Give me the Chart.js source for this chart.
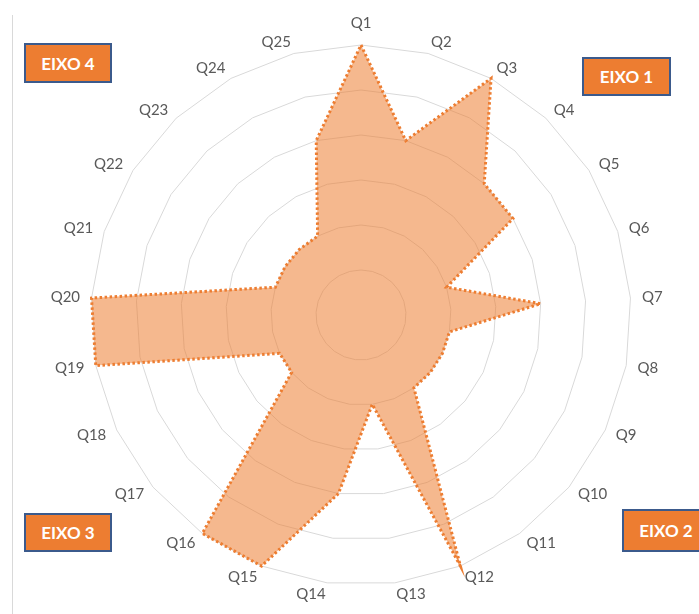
<!doctype html>
<html lang="pt">
<head>
<meta charset="utf-8">
<title>Radar por eixo</title>
<script src="https://cdn.jsdelivr.net/npm/chart.js"></script>
<style>
  body { margin: 0; background: #fff; }
  #wrap { position: relative; width: 699px; height: 614px; overflow: hidden; }
  #radar { position: absolute; left: 0; top: 0; }
  .frame { position: absolute; left: 12px; top: 15px; bottom: 0; border-left: 1px solid #d9d9d9; }
  .eixo {
    position: absolute; box-sizing: border-box;
    background: #ed7d31; border: 2px solid #3b5a8c; color: #fff;
    font: bold 17px Lato, sans-serif;
    display: flex; align-items: center; justify-content: center;
  }
</style>
</head>
<body>
<div id="wrap">
  <div class="frame"></div>
  <canvas id="radar" width="699" height="614"></canvas>
  <div class="eixo" id="eixo1" style="left:582px; top:57px; width:89px; height:39px;"></div>
  <div class="eixo" id="eixo2" style="left:622px; top:509px; width:88px; height:43px;"></div>
  <div class="eixo" id="eixo3" style="left:24px; top:513px; width:88px; height:39px;"></div>
  <div class="eixo" id="eixo4" style="left:24px; top:43px; width:88px; height:40px;"></div>
</div>
<script>
  // questions around the radar, clockwise from the top
  const questions = ['Q1', 'Q2', 'Q3', 'Q4', 'Q5', 'Q6', 'Q7', 'Q8', 'Q9', 'Q10',
                     'Q11', 'Q12', 'Q13', 'Q14', 'Q15', 'Q16', 'Q17', 'Q18', 'Q19', 'Q20',
                     'Q21', 'Q22', 'Q23', 'Q24', 'Q25'];
  const scores = [6, 4, 6, 4, 4, 2, 4, 2, 2, 2,
                  2, 6, 2, 4, 6, 6, 2, 2, 6, 6,
                  2, 2, 2, 2, 4];
  const scaleMax = 6;
  const scaleStep = 1;
  const axisNames = ['EIXO 1', 'EIXO 2', 'EIXO 3', 'EIXO 4'];

  axisNames.forEach((name, i) => {
    document.getElementById('eixo' + (i + 1)).textContent = name;
  });

  // question labels sit beside the outer ring, vertically centred on their spoke
  const labelPad = 11.5;
  const questionLabels = {
    id: 'questionLabels',
    afterDraw(chart) {
      const scale = chart.scales.r;
      const ctx = chart.ctx;
      ctx.save();
      ctx.font = '15px Lato, sans-serif';
      ctx.fillStyle = '#595959';
      ctx.textAlign = 'center';
      ctx.textBaseline = 'middle';
      chart.data.labels.forEach((text, i) => {
        const angle = scale.getIndexAngle(i);
        const sin = Math.sin(angle);
        const cos = Math.cos(angle);
        const p = scale.getPointPosition(i, scale.drawingArea + labelPad);
        const w = ctx.measureText(text).width;
        let x = p.x;
        let y = p.y;
        if (Math.abs(sin) > 0.01) {
          x += Math.sign(sin) * w / 2;
        } else {
          y -= Math.sign(cos) * 10;
        }
        ctx.fillText(text, x, y);
      });
      ctx.restore();
    }
  };

  const radarChart = new Chart(document.getElementById('radar'), {
    type: 'radar',
    data: {
      labels: questions,
      datasets: [{
        data: scores,
        backgroundColor: 'rgba(237, 125, 49, 0.55)',
        borderColor: '#ed7d31',
        borderWidth: 3,
        borderDash: [2.5, 2.5],
        pointRadius: 0,
        pointHoverRadius: 0,
        tension: 0,
        fill: true,
        clip: false
      }]
    },
    options: {
      responsive: false,
      animation: false,
      layout: { padding: { left: 91, right: 68, top: 45, bottom: 29 } },
      plugins: {
        legend: { display: false },
        tooltip: { enabled: false }
      },
      scales: {
        r: {
          min: 0,
          max: scaleMax,
          ticks: { display: false, stepSize: scaleStep },
          grid: { color: '#d9d9d9', lineWidth: 1 },
          angleLines: { display: false },
          pointLabels: { display: false }
        }
      }
    },
    plugins: [questionLabels]
  });
</script>
</body>
</html>
